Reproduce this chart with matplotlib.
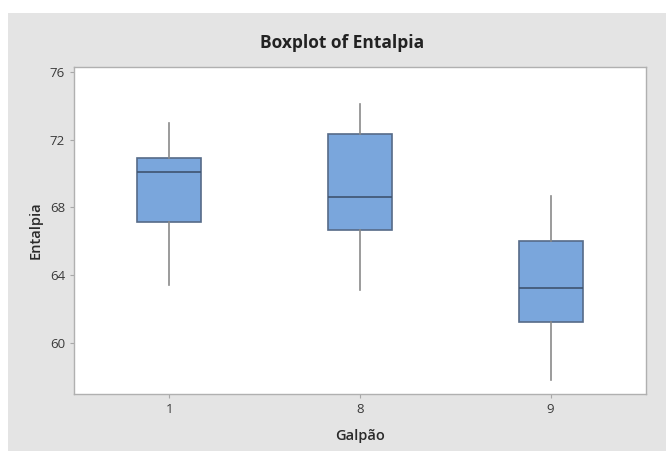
import matplotlib
matplotlib.use("Agg")
import matplotlib.pyplot as plt
from matplotlib.patches import Rectangle

# five-number summaries
groups = ["1", "8", "9"]
whisker_low = [63.4, 63.1, 57.8]
q1 = [67.15, 66.65, 61.2]
median = [70.1, 68.6, 63.2]
q3 = [70.9, 72.35, 66.0]
whisker_high = [73.0, 74.1, 68.7]

plt.rcParams['font.family'] = ['Open Sans', 'DejaVu Sans']

fig = plt.figure(figsize=(6.66, 4.51), dpi=100, facecolor='white')
# gray panel (screenshot has a thin white margin top/left)
fig.add_artist(Rectangle((8/666, 0), 1 - 8/666, 1 - 13/451, transform=fig.transFigure,
                         facecolor='#e4e4e4', edgecolor='none', zorder=-10))

ax = fig.add_axes([74/666, 1 - 394/451, (646 - 74)/666, (394 - 67)/451])
ax.set_facecolor('white')

stats = []
for i, g in enumerate(groups):
    stats.append(dict(label=g, whislo=whisker_low[i], q1=q1[i], med=median[i],
                      q3=q3[i], whishi=whisker_high[i], fliers=[]))

ax.bxp(stats, positions=[1, 2, 3], widths=0.335, patch_artist=True, showcaps=False,
       boxprops=dict(facecolor='#7aa6dc', edgecolor='#566b88', linewidth=1.2),
       medianprops=dict(color='#3f5470', linewidth=1.2),
       whiskerprops=dict(color='#8a8a8a', linewidth=1.2))

ax.set_xlim(0.5, 3.5)
ax.set_ylim(56.96, 76.3)
ax.set_yticks([60, 64, 68, 72, 76])
ax.set_xticks([1, 2, 3])
ax.set_xticklabels(groups)

for s in ax.spines.values():
    s.set_color('#b0b0b0')
    s.set_linewidth(1.0)
ax.tick_params(axis='both', colors='#a8a8a8', labelcolor='#3a3a3a', labelsize=9.5,
               length=3, width=0.8, direction='out')

ax.set_ylabel('Entalpia', fontsize=10.5, color='#2a2a2a', fontweight='semibold', labelpad=5)
ax.set_xlabel('Galpão', fontsize=10.5, color='#2a2a2a', fontweight='semibold', labelpad=9)
fig.text(342/666, 1 - 43/451, 'Boxplot of Entalpia', ha='center', va='center',
         fontsize=12.5, fontweight='bold', color='#222222')

fig.savefig('out.png', dpi=100, facecolor=fig.get_facecolor())
